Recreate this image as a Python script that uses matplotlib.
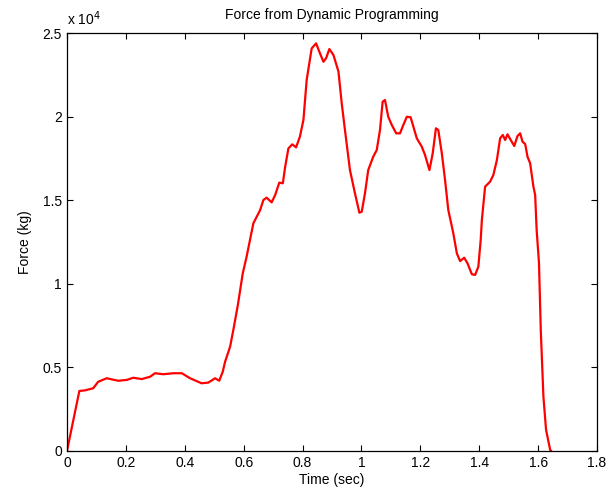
import numpy as np
import matplotlib
matplotlib.use('Agg')
import matplotlib.pyplot as plt
from matplotlib.ticker import FuncFormatter

plt.rcParams['font.family'] = ['Liberation Sans', 'DejaVu Sans']
plt.rcParams['font.size'] = 10

# Force history from the dynamic-programming solution (time in s, force in kg)
time_s = [0.0, 0.042, 0.06, 0.089, 0.106, 0.135, 0.174, 0.203, 0.225, 0.254,
          0.282, 0.299, 0.327, 0.361, 0.39, 0.418, 0.457, 0.48, 0.503, 0.517,
          0.529, 0.537, 0.554, 0.565, 0.58, 0.597, 0.61, 0.633, 0.656, 0.667,
          0.678, 0.695, 0.707, 0.721, 0.733, 0.741, 0.752, 0.765, 0.778, 0.791,
          0.803, 0.814, 0.831, 0.846, 0.859, 0.871, 0.88, 0.891, 0.905, 0.922,
          0.933, 0.944, 0.961, 0.978, 0.993, 1.001, 1.012, 1.023, 1.04, 1.052,
          1.063, 1.072, 1.08, 1.091, 1.103, 1.118, 1.131, 1.14, 1.154, 1.167,
          1.188, 1.205, 1.216, 1.231, 1.242, 1.253, 1.261, 1.273, 1.284, 1.295,
          1.312, 1.324, 1.335, 1.349, 1.36, 1.375, 1.386, 1.397, 1.405, 1.409,
          1.42, 1.437, 1.448, 1.46, 1.471, 1.48, 1.488, 1.496, 1.507, 1.519,
          1.53, 1.539, 1.547, 1.556, 1.564, 1.573, 1.584, 1.59, 1.595, 1.603,
          1.609, 1.618, 1.627, 1.641, 1.645]
force_kg = [0, 3590, 3620, 3750, 4140, 4350, 4200, 4250, 4380, 4300,
            4440, 4650, 4590, 4650, 4650, 4350, 4050, 4090, 4350, 4200,
            4740, 5340, 6240, 7240, 8700, 10630, 11620, 13620, 14410, 15010,
            15150, 14870, 15310, 16050, 16010, 17000, 18100, 18340, 18160, 18800,
            19800, 22190, 24080, 24380, 23790, 23280, 23490, 24040, 23680, 22690,
            20800, 19200, 16800, 15410, 14250, 14310, 15410, 16800, 17600, 18000,
            19200, 20890, 20990, 19990, 19500, 19000, 19000, 19400, 19990, 19960,
            18700, 18200, 17700, 16800, 17800, 19300, 19200, 17800, 16200, 14410,
            13020, 11820, 11360, 11560, 11230, 10570, 10530, 11020, 12620, 13820,
            15810, 16110, 16510, 17400, 18700, 18900, 18600, 18940, 18600, 18240,
            18840, 19000, 18500, 18360, 17600, 17200, 15810, 15310, 13220, 11230,
            7240, 3250, 1260, 60, 0]

fig = plt.figure(figsize=(6.1, 4.97), dpi=100)
ax = fig.add_axes([0.1098, 0.0926, 0.8689, 0.841])
ax.plot(time_s, force_kg, color='#ff0000', linewidth=1.6,
        solid_joinstyle='round', solid_capstyle='round')

ax.set_xlim(0, 1.8)
ax.set_ylim(0, 25000)
ax.set_xticks(np.arange(0, 1.81, 0.2))
ax.set_yticks(np.arange(0, 25001, 5000))
ax.xaxis.set_major_formatter(FuncFormatter(lambda v, pos: '%g' % round(v, 1)))
ax.yaxis.set_major_formatter(FuncFormatter(lambda v, pos: '%g' % (v / 1e4)))
ax.tick_params(direction='in', top=True, right=True, length=4, width=0.8, labelsize=10)
for s in ax.spines.values():
    s.set_linewidth(0.9)

ax.text(0.0, 1.012, r'x 10$^4$', transform=ax.transAxes, ha='left', va='bottom', fontsize=10)
ax.set_title('Force from Dynamic Programming', fontsize=10, pad=10)
ax.set_xlabel('Time (sec)', labelpad=2)
ax.set_ylabel('Force (kg)', labelpad=8)

fig.savefig('out.png', dpi=100)
